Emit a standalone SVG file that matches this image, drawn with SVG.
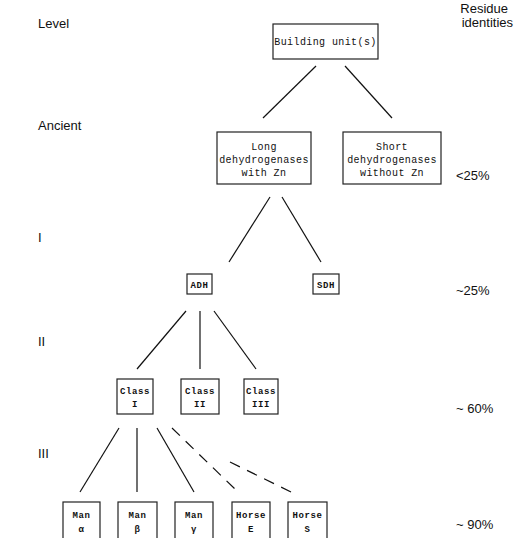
<svg xmlns="http://www.w3.org/2000/svg" width="514" height="538" viewBox="0 0 514 538">
<style>
.box{fill:#fff;stroke:#222;stroke-width:1.2}
.mono{font-family:"Liberation Mono","DejaVu Sans Mono",monospace;font-size:10px;fill:#111;text-anchor:middle;letter-spacing:0.4px}
.sm{font-size:9px;font-weight:bold;letter-spacing:0.6px}
.lab{font-family:"Liberation Sans",Arial,sans-serif;font-size:13px;fill:#111}
.ln{stroke:#111;stroke-width:1.2;fill:none}
.dash{stroke:#111;stroke-width:1.2;fill:none;stroke-dasharray:11,8}
</style>
<rect width="514" height="538" fill="#fff"/>
<g id="labels">
<text class="lab" x="38" y="28">Level</text>
<text class="lab" x="38" y="130">Ancient</text>
<text class="lab" x="38" y="242">I</text>
<text class="lab" x="38" y="346">II</text>
<text class="lab" x="38" y="458">III</text>
<text class="lab" x="508" y="13" text-anchor="end">Residue</text>
<text class="lab" x="513" y="27" text-anchor="end">identities</text>
<text class="lab" x="456" y="180">&lt;25%</text>
<text class="lab" x="456" y="295">~25%</text>
<text class="lab" x="456" y="413">~ 60%</text>
<text class="lab" x="456" y="529">~ 90%</text>
</g>
<g id="connectors">
<line class="ln" x1="316" y1="66" x2="263" y2="118"/>
<line class="ln" x1="345" y1="66" x2="392" y2="118"/>
<line class="ln" x1="270" y1="197" x2="229" y2="262"/>
<line class="ln" x1="282" y1="197" x2="321" y2="262"/>
<line class="ln" x1="186" y1="311" x2="137" y2="369"/>
<line class="ln" x1="200" y1="311" x2="200" y2="369"/>
<line class="ln" x1="214" y1="311" x2="256" y2="369"/>
<line class="ln" x1="119" y1="428" x2="80" y2="492"/>
<line class="ln" x1="137" y1="428" x2="137" y2="492"/>
<line class="ln" x1="157" y1="428" x2="194" y2="492"/>
<line class="dash" x1="172" y1="428" x2="237" y2="491"/>
<line class="dash" x1="230" y1="462" x2="291" y2="492"/>
</g>
<g id="n-building"><rect class="box" x="273" y="24" width="105" height="35"/><text class="mono" x="325.5" y="45">Building unit(s)</text></g>
<g id="n-long"><rect class="box" x="217" y="132" width="94" height="52"/><text class="mono" x="264" y="150">Long</text><text class="mono" x="264" y="163">dehydrogenases</text><text class="mono" x="264" y="176">with Zn</text></g>
<g id="n-short"><rect class="box" x="343" y="132" width="98" height="52"/><text class="mono" x="392" y="150">Short</text><text class="mono" x="392" y="163">dehydrogenases</text><text class="mono" x="392" y="176">without Zn</text></g>
<g id="n-adh"><rect class="box" x="187" y="274" width="25" height="20"/><text class="mono sm" x="199.5" y="288">ADH</text></g>
<g id="n-sdh"><rect class="box" x="313" y="274" width="26" height="20"/><text class="mono sm" x="326" y="288">SDH</text></g>
<g id="n-class1"><rect class="box" x="117" y="379" width="36" height="35"/><text class="mono sm" x="135" y="394">Class</text><text class="mono sm" x="135" y="407">I</text></g>
<g id="n-class2"><rect class="box" x="181" y="379" width="38" height="35"/><text class="mono sm" x="200" y="394">Class</text><text class="mono sm" x="200" y="407">II</text></g>
<g id="n-class3"><rect class="box" x="244" y="379" width="34" height="35"/><text class="mono sm" x="261" y="394">Class</text><text class="mono sm" x="261" y="407">III</text></g>
<g id="n-mana"><rect class="box" x="63" y="502" width="37" height="40"/><text class="mono sm" x="81.5" y="518">Man</text><text class="mono sm" x="81.5" y="532">α</text></g>
<g id="n-manb"><rect class="box" x="118" y="502" width="39" height="40"/><text class="mono sm" x="137.5" y="518">Man</text><text class="mono sm" x="137.5" y="532">β</text></g>
<g id="n-manc"><rect class="box" x="175" y="502" width="38" height="40"/><text class="mono sm" x="194" y="518">Man</text><text class="mono sm" x="194" y="532">γ</text></g>
<g id="n-horsee"><rect class="box" x="232" y="502" width="38" height="40"/><text class="mono sm" x="251" y="518">Horse</text><text class="mono sm" x="251" y="532">E</text></g>
<g id="n-horses"><rect class="box" x="288" y="502" width="39" height="40"/><text class="mono sm" x="307.5" y="518">Horse</text><text class="mono sm" x="307.5" y="532">S</text></g>
</svg>
